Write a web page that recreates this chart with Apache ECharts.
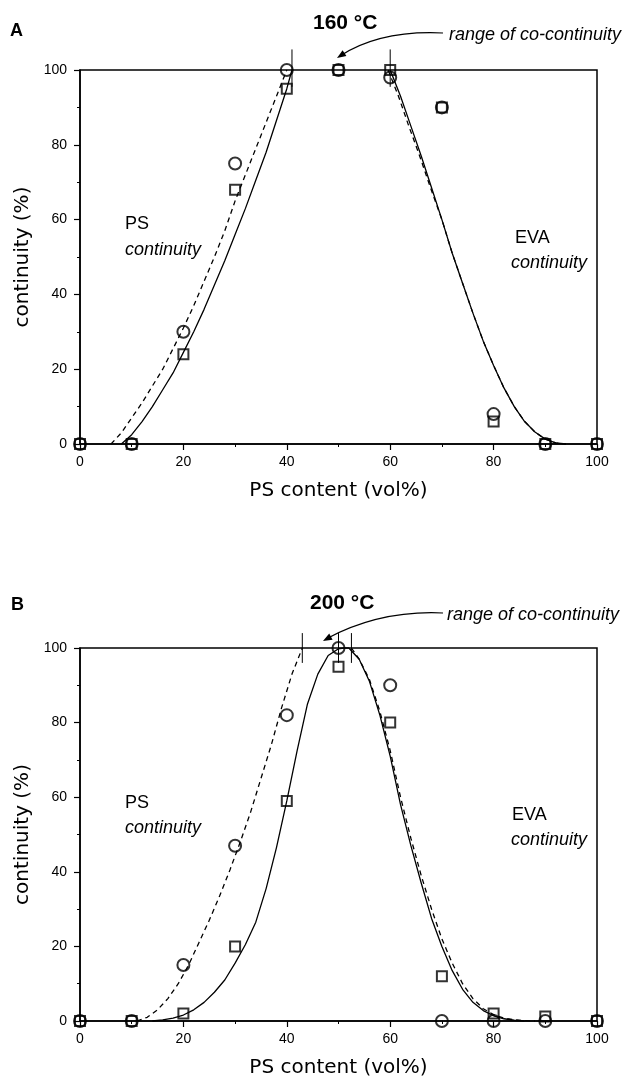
<!DOCTYPE html>
<html>
<head>
<meta charset="utf-8">
<script src="https://cdn.jsdelivr.net/npm/echarts@6/dist/echarts.min.js"></script>
<style>
  html, body { margin: 0; padding: 0; background: #fff; }
  #chart { width: 630px; height: 1081px; }
</style>
</head>
<body>
<div id="chart"></div>
<script>
// PS content (vol%) where samples were measured
const psContent = [0, 10, 20, 30, 40, 50, 60, 70, 80, 90, 100];

// panel A, 160 °C
const circlesA = [0, 0, 30, 75, 100, 100, 98, 90, 8, 0, 0];
const squaresA = [0, 0, 24, 68, 95, 100, 100, 90, 6, 0, 0];
const solidLeftA = [[8, 0], [10, 2.5], [12, 6], [14, 10], [16, 14.5], [18, 19], [20, 24.5], [22, 30], [24, 36], [26, 42.5], [28, 49], [30, 56], [32, 63], [34, 70.5], [36, 78], [38, 86.5], [40, 95], [41, 100]];
const dashLeftA = [[6, 0], [8, 3], [10, 7], [12, 11], [14, 15.5], [16, 20], [18, 25.5], [20, 31], [22, 37], [24, 43.5], [26, 50], [28, 57], [30, 65], [32, 72], [34, 79], [36, 86], [38, 93], [40, 100]];
const solidRightA = [[60, 100], [62, 93], [64, 85], [66, 77], [68, 68.5], [70, 60], [72, 51], [74, 43], [76, 35], [78, 27.5], [80, 21], [82, 15], [84, 10], [86, 6], [88, 3.2], [90, 1.3], [92, 0.3], [94, 0]];
const dashRightA = [[59.6, 100], [61.6, 93], [63.6, 85], [65.7, 77], [67.8, 68.5], [70, 60], [72, 51], [74, 43], [76, 35], [78, 27.5], [80, 21], [82, 15], [84, 10], [86, 6], [88, 3.2], [90, 1.3], [92, 0.3], [94, 0]];
const rangeMarksA = [41, 60];

// panel B, 200 °C
const circlesB = [0, 0, 15, 47, 82, 100, 90, 0, 0, 0, 0];
const squaresB = [0, 0, 2, 20, 59, 95, 80, 12, 2, 1.2, 0];
const solidB = [[14, 0], [16, 0.3], [18, 0.8], [20, 1.6], [22, 3], [24, 5], [26, 7.7], [28, 11], [30, 15.5], [32, 20.5], [34, 26.5], [36, 35.5], [38, 46.5], [40, 59], [42, 72.5], [44, 85], [46, 93], [48, 98], [50, 99.8], [51, 100], [52, 100], [54, 97], [56, 91], [58, 82], [60, 71], [62, 58], [64, 47], [66, 37], [68, 27.5], [70, 20], [72, 13.5], [74, 8.5], [76, 5], [78, 2.8], [80, 1.4], [82, 0.6], [84, 0.2], [86, 0]];
const dashLeftB = [[11, 0], [13, 1], [15, 3], [17, 6], [19, 10], [21, 15], [23, 21], [25, 27], [27, 33.5], [29, 40.5], [31, 48], [33, 56], [35, 65], [37, 74], [39, 84], [41, 93], [43, 100]];
const dashRightB = [[52.5, 100], [54, 97], [56, 91.5], [58, 83], [60, 72.5], [62, 60], [64, 49], [66, 39], [68, 30], [70, 22], [72, 15.5], [74, 10], [76, 6], [78, 3.3], [80, 1.7], [82, 0.8], [84, 0.3], [86, 0.1], [88, 0]];
const rangeMarksB = [43, 50, 52.5];

const yTicks = [0, 20, 40, 60, 80, 100];

const chart = echarts.init(document.getElementById('chart'));

const black = '#000';
const tickFont = 'Liberation Sans';

function xAxisFor(i) {
  return {
    type: 'value', gridIndex: i, min: 0, max: 100, interval: 20,
    axisLine: { onZero: false, lineStyle: { color: black, width: 1.5 } },
    axisTick: { length: 6, lineStyle: { color: black, width: 1.2 } },
    minorTick: { show: true, splitNumber: 2, length: 3, lineStyle: { color: black, width: 1 } },
    splitLine: { show: false },
    axisLabel: { color: black, fontSize: 14, fontFamily: tickFont, margin: 11 },
    name: 'PS content (vol%)', nameLocation: 'middle', nameGap: 37,
    nameTextStyle: { color: black, fontSize: 20, fontFamily: 'DejaVu Sans' }
  };
}

function yAxisFor(i) {
  return {
    type: 'value', gridIndex: i, min: 0, max: 100, interval: 20,
    axisLine: { onZero: false, lineStyle: { color: black, width: 1.5 } },
    axisTick: { length: 6, lineStyle: { color: black, width: 1.2 } },
    minorTick: { show: true, splitNumber: 2, length: 3, lineStyle: { color: black, width: 1 } },
    splitLine: { show: false },
    axisLabel: {
      color: black, fontSize: 14, fontFamily: tickFont, margin: 13,
      formatter: v => (yTicks.includes(v) ? String(v) : '')
    },
    name: 'continuity (%)', nameLocation: 'middle', nameGap: 44,
    nameTextStyle: { color: black, fontSize: 20, fontFamily: 'DejaVu Sans' }
  };
}

function points(ys) {
  return psContent.map((x, k) => [x, ys[k]]);
}

function scatter(i, ys, symbol, size) {
  return {
    type: 'scatter', xAxisIndex: i, yAxisIndex: i, clip: false, z: 5,
    symbol: symbol, symbolSize: size,
    itemStyle: { color: 'rgba(255,255,255,0)', borderColor: black, borderWidth: 2 },
    data: points(ys)
  };
}

function curve(i, data, dashed) {
  return {
    type: 'line', xAxisIndex: i, yAxisIndex: i, clip: false, z: 3,
    showSymbol: false, symbol: 'none', smooth: false,
    lineStyle: { color: black, width: 1.3, type: dashed ? [5, 4] : 'solid' },
    data: data
  };
}

function rangeMark(i, x, lo, hi) {
  return {
    type: 'line', xAxisIndex: i, yAxisIndex: i, clip: false, z: 4,
    showSymbol: false, symbol: 'none',
    lineStyle: { color: black, width: 1 },
    data: [[x, lo], [x, hi]]
  };
}

const series = [
  curve(0, solidLeftA, false),
  curve(0, dashLeftA, true),
  curve(0, solidRightA, false),
  curve(0, dashRightA, true),
  scatter(0, squaresA, 'rect', 10),
  scatter(0, circlesA, 'circle', 12),
  curve(1, solidB, false),
  curve(1, dashLeftB, true),
  curve(1, dashRightB, true),
  scatter(1, squaresB, 'rect', 10),
  scatter(1, circlesB, 'circle', 12)
];
rangeMarksA.forEach(x => series.push(rangeMark(0, x, 95.5, 105.5)));
rangeMarksB.forEach(x => series.push(rangeMark(1, x, 96, 104)));

function label(x, y, text, font, align) {
  return {
    type: 'text', x: x, y: y, z: 10,
    style: { text: text, font: font, fill: black, textAlign: align || 'left', textVerticalAlign: 'middle' }
  };
}

function arrow(x1, y1, cx, cy, x2, y2, head) {
  return [
    { type: 'bezierCurve', z: 10, shape: { x1: x1, y1: y1, cpx1: cx, cpy1: cy, x2: x2, y2: y2 },
      style: { stroke: black, lineWidth: 1.2, fill: null } },
    { type: 'polygon', z: 10, shape: { points: head }, style: { fill: black } }
  ];
}

const annFont = '18px "Liberation Sans"';
const annItalic = 'italic 18px "Liberation Sans"';
const tempFont = 'bold 21px "Liberation Sans"';

chart.setOption({
  animation: false,
  backgroundColor: '#fff',
  grid: [
    { left: 80, top: 70, width: 517, height: 374, show: true, borderColor: black, borderWidth: 1.5 },
    { left: 80, top: 648, width: 517, height: 373, show: true, borderColor: black, borderWidth: 1.5 }
  ],
  xAxis: [xAxisFor(0), xAxisFor(1)],
  yAxis: [yAxisFor(0), yAxisFor(1)],
  series: series,
  graphic: [
    label(10, 31, 'A', 'bold 18px "Liberation Sans"'),
    label(11, 605, 'B', 'bold 18px "Liberation Sans"'),
    label(313, 23, '160 °C', tempFont),
    label(310, 603, '200 °C', tempFont),
    label(449, 35, 'range of co-continuity', annItalic),
    label(447, 615, 'range of co-continuity', annItalic),
    label(125, 224, 'PS', annFont),
    label(125, 250, 'continuity', annItalic),
    label(515, 238, 'EVA', annFont),
    label(511, 263, 'continuity', annItalic),
    label(125, 803, 'PS', annFont),
    label(125, 828, 'continuity', annItalic),
    label(512, 815, 'EVA', annFont),
    label(511, 840, 'continuity', annItalic),
    ...arrow(443, 33, 380, 30, 340, 56, [[337, 58], [346.4, 56], [342.6, 50.2]]),
    ...arrow(443, 613, 380, 610, 326, 639, [[323, 641], [332.6, 639.8], [329.2, 633.6]])
  ]
});
</script>
</body>
</html>
